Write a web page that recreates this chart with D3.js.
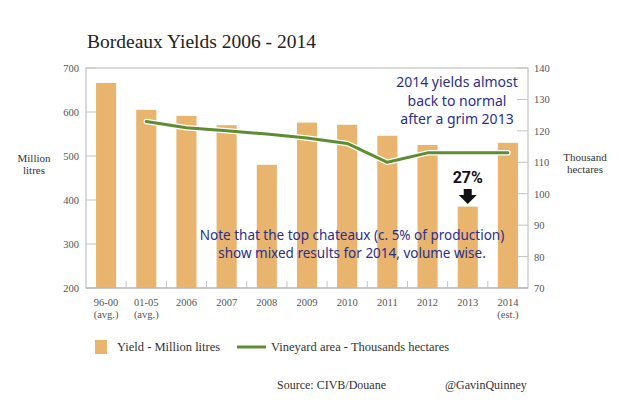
<!DOCTYPE html>
<html><head><meta charset="utf-8">
<script src="https://cdn.jsdelivr.net/npm/d3@7"></script>
<style>body{margin:0;background:#fff}svg{display:block}</style>
</head><body>
<svg id="c" width="630" height="411"></svg>
<script>
const categories = ["96-00","01-05","2006","2007","2008","2009","2010","2011","2012","2013","2014"];
const subLabels  = ["(avg.)","(avg.)","","","","","","","","","(est.)"];
const yieldValues = [666,605,591,570,480,576,571,546,525,385,530];
const areaValues  = [null,123,121,120,119,117.7,116,110,113,113,113];
const leftTicks  = [200,300,400,500,600,700];
const rightTicks = [70,80,90,100,110,120,130,140];

const svg = d3.select("#c");
const L = 86, R = 528, T = 68, B = 288;
const serif = "Georgia, 'Liberation Serif', 'DejaVu Serif', serif";
const hand = "'Comic Sans MS', 'Noto Sans', sans-serif";

const x = d3.scaleBand().domain(categories).range([L, R]).padding(0);
const yL = d3.scaleLinear().domain([200,700]).range([B, T]);
const yR = d3.scaleLinear().domain([70,140]).range([B, T]);

// title
svg.append("text").attr("x",87).attr("y",48).attr("font-family",serif)
  .attr("font-size",19.5).attr("fill","#222").text("Bordeaux Yields 2006 - 2014");

// frame
svg.append("rect").attr("x",L).attr("y",T).attr("width",R-L).attr("height",B-T)
  .attr("fill","none").attr("stroke","#b5b5b5").attr("stroke-width",1);

const g = svg.append("g");
leftTicks.forEach(v=>{
  g.append("line").attr("x1",L).attr("x2",L+10).attr("y1",yL(v)).attr("y2",yL(v)).attr("stroke","#c4c4c4");
});
rightTicks.forEach(v=>{
  g.append("line").attr("x1",R-11).attr("x2",R).attr("y1",yR(v)).attr("y2",yR(v)).attr("stroke","#c4c4c4");
});
categories.slice(1).forEach(c=>{
  g.append("line").attr("x1",x(c)).attr("x2",x(c)).attr("y1",B).attr("y2",B-7).attr("stroke","#c4c4c4");
});

// bars
const bw = x.bandwidth()/2;
svg.append("g").selectAll("rect").data(categories).join("rect")
  .attr("x",d=>x(d)+x.bandwidth()/2-bw/2)
  .attr("y",(d,i)=>yL(yieldValues[i]))
  .attr("width",bw)
  .attr("height",(d,i)=>B-yL(yieldValues[i]))
  .attr("fill","#e8b46e");

svg.append("line").attr("x1",L).attr("x2",R).attr("y1",B).attr("y2",B).attr("stroke","#b5b5b5");

// line
const pts = categories.map((c,i)=>({c,v:areaValues[i]})).filter(d=>d.v!=null);
const line = d3.line().x(d=>x(d.c)+x.bandwidth()/2).y(d=>yR(d.v));
svg.append("path").datum(pts).attr("d",line).attr("fill","none").attr("stroke","#fff").attr("stroke-width",5.5).attr("stroke-linecap","round").attr("stroke-linejoin","round");
svg.append("path").datum(pts).attr("d",line).attr("fill","none").attr("stroke","#5e8c31").attr("stroke-width",3).attr("stroke-linecap","round").attr("stroke-linejoin","round");

// axis labels
const lt = svg.append("g").attr("font-family",serif).attr("font-size",10.5).attr("fill","#555");
leftTicks.forEach(v=>{
  lt.append("text").attr("x",79).attr("y",yL(v)+4).attr("text-anchor","end").text(v);
});
rightTicks.forEach(v=>{
  lt.append("text").attr("x",534).attr("y",yR(v)+4).attr("text-anchor","start").text(v);
});
categories.forEach((c,i)=>{
  const cx = x(c)+x.bandwidth()/2;
  lt.append("text").attr("x",cx).attr("y",306).attr("text-anchor","middle").text(c);
  if(subLabels[i]) lt.append("text").attr("x",cx).attr("y",318).attr("text-anchor","middle").text(subLabels[i]);
});

const at = svg.append("g").attr("font-family",serif).attr("font-size",11).attr("fill","#333").attr("text-anchor","middle");
at.append("text").attr("x",34).attr("y",162).text("Million");
at.append("text").attr("x",34).attr("y",174).text("litres");
at.append("text").attr("x",585).attr("y",161).text("Thousand");
at.append("text").attr("x",585).attr("y",173).text("hectares");

// annotations
const an = svg.append("g").attr("font-family",hand).attr("fill","#2b2f8e").attr("text-anchor","middle");
[["2014 yields almost",87],["back to normal",105.5],["after a grim 2013",124]].forEach(([t,y])=>{
  an.append("text").attr("x",457).attr("y",y).attr("font-size",14).text(t);
});
[["Note that the top chateaux (c. 5% of production)",240],["show mixed results for 2014, volume wise.",258]].forEach(([t,y])=>{
  an.append("text").attr("x",352).attr("y",y).attr("font-size",13.5).text(t);
});

// 27% marker
const c13 = x("2013")+x.bandwidth()/2;
svg.append("text").attr("x",c13).attr("y",183).attr("text-anchor","middle")
  .attr("font-family","'Liberation Sans Narrow', 'Roboto', sans-serif").attr("font-weight","bold")
  .attr("font-size",16).attr("fill","#111").text("27%");
svg.append("path").attr("d",`M${c13-4},189 L${c13+4},189 L${c13+4},195 L${c13+9},195 L${c13},204 L${c13-9},195 L${c13-4},195 Z`).attr("fill","#111");

// legend
const lg = svg.append("g").attr("font-family",serif).attr("font-size",12.5).attr("fill","#333");
lg.append("rect").attr("x",95).attr("y",340).attr("width",12).attr("height",14).attr("fill","#e8b46e");
lg.append("text").attr("x",117).attr("y",351).text("Yield - Million litres");
lg.append("line").attr("x1",237).attr("x2",266).attr("y1",347).attr("y2",347).attr("stroke","#5e8c31").attr("stroke-width",3);
lg.append("text").attr("x",271).attr("y",351).text("Vineyard area - Thousands hectares");

const src = svg.append("g").attr("font-family",serif).attr("font-size",12).attr("fill","#333");
src.append("text").attr("x",277).attr("y",389).text("Source: CIVB/Douane");
src.append("text").attr("x",445).attr("y",389).text("@GavinQuinney");
</script>
</body></html>
